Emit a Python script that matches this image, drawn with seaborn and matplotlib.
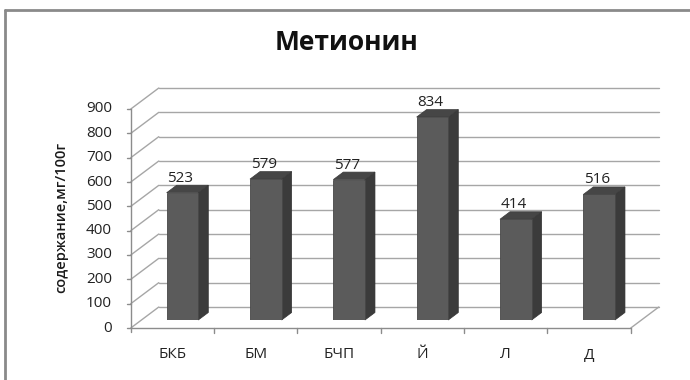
import matplotlib
matplotlib.use("Agg")
import matplotlib.pyplot as plt
from matplotlib.lines import Line2D
from matplotlib.patches import Polygon
from matplotlib.transforms import offset_copy
import seaborn as sns
import pandas as pd

# Methionine content by sample
categories = ["БКБ", "БМ", "БЧП", "Й", "Л", "Д"]
values = [523, 579, 577, 834, 414, 516]
y_ticks = [0, 100, 200, 300, 400, 500, 600, 700, 800, 900]

title = "Метионин"
y_label = "содержание,мг/100г"

sns.set_theme(style="white")
plt.rcParams["font.family"] = ["Open Sans", "DejaVu Sans"]

W, H, DPI = 690, 380, 100
fig = plt.figure(figsize=(W / DPI, H / DPI), dpi=DPI)
fig.patch.set_facecolor("white")

# axes = the plane in which the bar fronts stand
ax_l, ax_b, ax_w, ax_h = 140.8, 60, 500, 219
ax = fig.add_axes([ax_l / W, ax_b / H, ax_w / W, ax_h / H])
ax.set_axis_off()

df = pd.DataFrame({"cat": categories, "val": values})
sns.barplot(data=df, x="cat", y="val", order=categories, color="#5b5b5b",
            saturation=1, width=0.38, edgecolor="#474747", linewidth=0.6,
            ax=ax, zorder=3)
ax.set_xlim(-0.5, len(categories) - 0.5)
ax.set_ylim(0, y_ticks[-1])

# pixels per data unit
sx = ax_w / len(categories)
sy = ax_h / y_ticks[-1]

# depth offsets (in dots) for the front edge and back wall of the box
front = (-10, -8)
back = (18, 13)
t_front = offset_copy(ax.transData, fig=fig, x=front[0], y=front[1], units="dots")
t_back = offset_copy(ax.transData, fig=fig, x=back[0], y=back[1], units="dots")

grid_c = "#a6a6a6"
axis_c = "#8c8c8c"
txt_c = "#222222"
fs = 11
x_lo, x_hi = -0.5, len(categories) - 0.5

# back wall gridlines and left wall diagonals
for v in y_ticks:
    ax.add_line(Line2D([x_lo, x_hi], [v, v], transform=t_back, color=grid_c,
                       lw=1.0, zorder=0, clip_on=False))
    p0 = t_front.transform((x_lo, v))
    p1 = t_back.transform((x_lo, v))
    ax.add_line(Line2D([p0[0], p1[0]], [p0[1], p1[1]], transform=None,
                       color=grid_c, lw=1.0, zorder=0, clip_on=False))

# floor right edge
p0 = t_front.transform((x_hi, 0))
p1 = t_back.transform((x_hi, 0))
ax.add_line(Line2D([p0[0], p1[0]], [p0[1], p1[1]], transform=None,
                   color=grid_c, lw=1.0, zorder=0, clip_on=False))

# front value axis with ticks and labels
t_axis_low = offset_copy(ax.transData, fig=fig, x=front[0], y=front[1] - 4, units="dots")
p_low = t_axis_low.transform((x_lo, 0))
p_top = t_front.transform((x_lo, y_ticks[-1]))
ax.add_line(Line2D([p_low[0], p_top[0]], [p_low[1], p_top[1]], transform=None,
                   color=axis_c, lw=1.0, zorder=1, clip_on=False))
t_ytick = offset_copy(ax.transData, fig=fig, x=front[0] - 4, y=front[1], units="dots")
t_ylab = offset_copy(ax.transData, fig=fig, x=front[0] - 19, y=front[1], units="dots")
for v in y_ticks:
    p0 = t_front.transform((x_lo, v))
    p1 = t_ytick.transform((x_lo, v))
    ax.add_line(Line2D([p1[0], p0[0]], [p1[1], p0[1]], transform=None,
                       color=axis_c, lw=1.0, zorder=1, clip_on=False))
    ax.text(x_lo, v, str(v), transform=t_ylab, ha="right", va="center",
            fontsize=fs, color=txt_c)

# front category axis with boundary ticks and labels
ax.add_line(Line2D([x_lo, x_hi], [0, 0], transform=t_front, color=axis_c,
                   lw=1.0, zorder=1, clip_on=False))
t_xtick = offset_copy(ax.transData, fig=fig, x=front[0], y=front[1] - 5, units="dots")
for k in range(1, len(categories) + 1):
    xb = x_lo + k
    p0 = t_front.transform((xb, 0))
    p1 = t_xtick.transform((xb, 0))
    ax.add_line(Line2D([p0[0], p1[0]], [p0[1], p1[1]], transform=None,
                       color=axis_c, lw=1.0, zorder=1, clip_on=False))
t_xlab = offset_copy(ax.transData, fig=fig, x=front[0], y=front[1] - 27, units="dots")
for i, c in enumerate(categories):
    ax.text(i, 0, c, transform=t_xlab, ha="center", va="center",
            fontsize=fs, color=txt_c)

# side and top faces of each bar, plus value labels
dx_px, dy_px = 10, 7.5
ddx, ddy = dx_px / sx, dy_px / sy
t_val = offset_copy(ax.transData, fig=fig, x=-2, y=11, units="dots")
for p, v in zip(ax.patches, values):
    x0 = p.get_x()
    x1 = x0 + p.get_width()
    h = p.get_height()
    side = Polygon([(x1, 0), (x1, h), (x1 + ddx, h + ddy), (x1 + ddx, ddy)],
                   closed=True, facecolor="#3b3b3b", edgecolor="#333333",
                   lw=0.5, zorder=2.9, clip_on=False)
    top = Polygon([(x0, h), (x1, h), (x1 + ddx, h + ddy), (x0 + ddx, h + ddy)],
                  closed=True, facecolor="#464646", edgecolor="#3a3a3a",
                  lw=0.5, zorder=2.9, clip_on=False)
    ax.add_patch(side)
    ax.add_patch(top)
    ax.text((x0 + x1) / 2, h, f"{v}", transform=t_val, ha="center",
            va="baseline", fontsize=fs, color=txt_c)

# axis title and chart title
fig.text(61 / W, 1 - 217 / H, y_label, rotation=90, ha="center", va="center",
         fontsize=10.5, fontweight="semibold", color="#1a1a1a")
fig.text(347 / W, 1 - 43 / H, title, ha="center", va="center",
         fontsize=19, fontweight="bold", color="#111111")

# chart area border (top and left edges)
fig.add_artist(Line2D([5 / W, 1], [1 - 10 / H, 1 - 10 / H], transform=fig.transFigure,
                      color="#8a8a8a", lw=2.0))
fig.add_artist(Line2D([5 / W, 5 / W], [0, 1 - 10 / H], transform=fig.transFigure,
                      color="#8a8a8a", lw=2.0))

fig.savefig("out.png", dpi=DPI, facecolor="white")
